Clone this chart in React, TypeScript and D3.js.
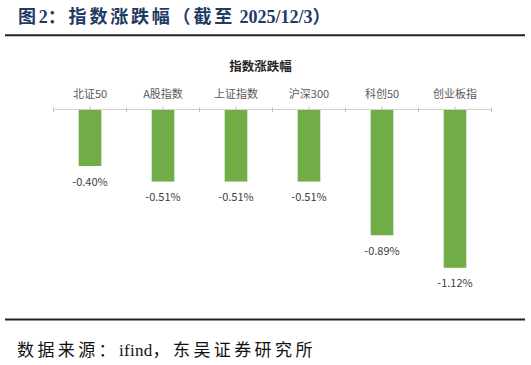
import React from "react";
import * as d3 from "d3";

const categories = ["北证50", "A股指数", "上证指数", "沪深300", "科创50", "创业板指"];
const values = [-0.40, -0.51, -0.51, -0.51, -0.89, -1.12];
const valueLabels = ["-0.40%", "-0.51%", "-0.51%", "-0.51%", "-0.89%", "-1.12%"];
const titleParts = ["图", "2", "：指数涨跌幅（截至", " 2025/12/3", "）"];
const chartTitle = "指数涨跌幅";
const sourceParts = ["数据来源：", "ifind", "，东吴证券研究所"];

const W = 531;
const H = 365;

export default function App() {
  const axisY = 109.5;
  const x = d3.scaleBand<string>().domain(categories).range([53.5, 491.5]).paddingInner(0).paddingOuter(0);
  const y = d3.scaleLinear().domain([-1.2, 0]).range([axisY + 1.2 * 141.3, axisY]);
  const bw = x.bandwidth() * 0.31;
  const cjk = "'Noto Sans CJK SC', 'Noto Sans', sans-serif";
  const serif = "'Liberation Serif', 'Noto Sans CJK SC', serif";
  const boundaries = categories.map((c) => x(c) as number).concat([x.range()[1]]);

  return (
    <svg width={W} height={H} style={{ position: "absolute", left: 0, top: 0, background: "#fff" }}>
      <text x={18} y={17} dominantBaseline="central" fontFamily={serif} fontWeight="bold" fontSize={18} fill="#1f3a64">
        <tspan letterSpacing={2.8}>{titleParts[0]}</tspan>
        <tspan letterSpacing={0}>{titleParts[1]}</tspan>
        <tspan letterSpacing={2.8}>{titleParts[2]}</tspan>
        <tspan letterSpacing={0}>{titleParts[3]}</tspan>
        <tspan letterSpacing={2.8}>{titleParts[4]}</tspan>
      </text>
      <line x1={5} x2={525} y1={35.3} y2={35.3} stroke="#222" strokeWidth={2} />

      <text x={260.5} y={65} textAnchor="middle" dominantBaseline="central" fontFamily={cjk} fontWeight="bold" fontSize={12.5} fill="#262626">
        {chartTitle}
      </text>

      {categories.map((c, i) => {
        const cx = (x(c) as number) + x.bandwidth() / 2;
        return (
          <g key={c}>
            <rect x={cx - bw / 2} y={y(0)} width={bw} height={y(values[i]) - y(0)} fill="#70ad47" />
            <text x={cx} y={93.3} textAnchor="middle" dominantBaseline="central" fontFamily={cjk} fontSize={11} fill="#595959">
              {c}
            </text>
            <text x={cx} y={y(values[i]) + 14.5} textAnchor="middle" dominantBaseline="central" fontFamily={cjk} fontSize={11} fill="#404040">
              {valueLabels[i]}
            </text>
            <line x1={cx} x2={cx} y1={axisY - 3} y2={axisY} stroke="#bfbfbf" strokeWidth={1} />
          </g>
        );
      })}

      <line x1={x.range()[0]} x2={x.range()[1]} y1={axisY} y2={axisY} stroke="#d0d0d0" strokeWidth={1} />
      {boundaries.map((b, i) => (
        <line key={i} x1={b} x2={b} y1={axisY - 2} y2={axisY + 2.5} stroke="#bfbfbf" strokeWidth={1} />
      ))}

      <line x1={5} x2={525} y1={319.5} y2={319.5} stroke="#222" strokeWidth={2} />
      <text x={17} y={350} dominantBaseline="central" fontFamily={serif} fontSize={17} fill="#111">
        <tspan letterSpacing={3.4}>{sourceParts[0]}</tspan>
        <tspan letterSpacing={0.3}>{sourceParts[1]}</tspan>
        <tspan letterSpacing={3.4}>{sourceParts[2]}</tspan>
      </text>
    </svg>
  );
}
